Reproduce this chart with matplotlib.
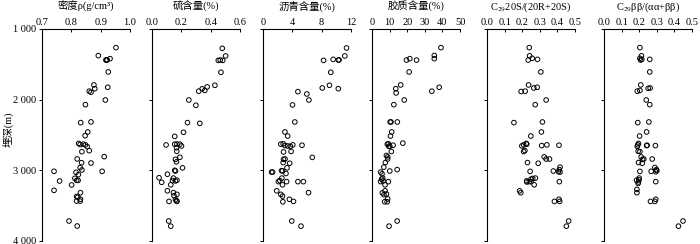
import matplotlib
matplotlib.use('Agg')
import matplotlib.pyplot as plt

plt.rcParams['font.family'] = ['Liberation Serif', 'Noto Sans CJK SC']
plt.rcParams['mathtext.fontset'] = 'stix'

# density g/cm3
dens = [0.952, 0.892, 0.932, 0.918, 0.920, 0.922, 0.926, 0.877, 0.924, 0.880, 0.861, 0.867,
        0.916, 0.848, 0.832, 0.867, 0.856, 0.847, 0.825, 0.830, 0.841, 0.848, 0.854, 0.861,
        0.836, 0.912, 0.820, 0.835, 0.867, 0.830, 0.836, 0.741, 0.905, 0.816, 0.824, 0.812,
        0.818, 0.823, 0.760, 0.801, 0.741, 0.831, 0.818, 0.822, 0.831, 0.818, 0.830, 0.792, 0.820]
dens_d = [1264, 1377, 1420, 1439, 1442, 1436, 1608, 1792, 1825, 1845, 1880, 1895,
          2005, 2071, 2325, 2315, 2457, 2510, 2620, 2635, 2630, 2640, 2665, 2722,
          2736, 2807, 2839, 2892, 2897, 2962, 2995, 3014, 3014, 3028, 3061, 3113,
          3142, 3142, 3151, 3207, 3283, 3316, 3370, 3380, 3408, 3435, 3435, 3717, 3788]

# sulfur %
sulf = [0.479, 0.502, 0.452, 0.465, 0.482, 0.470, 0.429, 0.342, 0.376, 0.319, 0.360,
        0.251, 0.299, 0.242, 0.326, 0.215, 0.155, 0.096, 0.155, 0.170, 0.190, 0.201, 0.167,
        0.169, 0.190, 0.160, 0.167, 0.208, 0.155, 0.160, 0.105, 0.048, 0.146, 0.140, 0.160,
        0.170, 0.066, 0.128, 0.105, 0.146, 0.170, 0.150, 0.160, 0.168, 0.116, 0.170, 0.114, 0.128]
sulf_d = [1274, 1382, 1445, 1440, 1445, 1613, 1797, 1847, 1820, 1880, 1870,
          2005, 2080, 2325, 2335, 2462, 2520, 2641, 2630, 2628, 2630, 2655, 2680,
          2730, 2815, 2845, 2880, 2965, 3000, 3010, 3055, 3105, 3110, 3145, 3150,
          3140, 3170, 3205, 3290, 3316, 3340, 3360, 3415, 3430, 3440, 3440, 3717, 3790]

# asphaltene %
asph = [11.39, 11.16, 9.57, 10.27, 10.37, 8.26, 9.24, 4.76, 5.98, 9.06, 8.08, 10.27,
        6.26, 4.02, 4.34, 2.99, 3.36, 2.43, 2.75, 2.99, 3.36, 3.74, 4.06, 5.32,
        3.83, 2.80, 6.72, 2.80, 3.00, 3.64, 2.75, 3.27, 2.52, 2.66, 1.31, 1.17, 3.13,
        2.57, 2.29, 2.10, 3.22, 4.76, 5.51, 2.66, 1.87, 2.43, 2.66, 6.21, 3.60, 4.16, 2.71,
        3.92, 5.18]
asph_d = [1269, 1382, 1430, 1440, 1438, 1445, 1613, 1887, 1920, 1797, 1835, 1845,
          2005, 2075, 2316, 2457, 2515, 2630, 2625, 2650, 2655, 2660, 2640, 2645,
          2733, 2740, 2817, 2844, 2840, 2900, 2890, 2965, 3005, 3008, 3025, 3025, 3045,
          3110, 3145, 3160, 3160, 3160, 3160, 3205, 3290, 3340, 3365, 3316, 3410, 3440, 3445,
          3717, 3790]

# resin %
resin = [39.2, 35.4, 35.4, 19.6, 21.5, 25.3, 21.1, 16.3, 38.2, 13.5, 13.7, 34.0,
         18.3, 12.4, 10.3, 14.4, 10.8, 11.2, 10.5, 8.7, 9.3, 10.1, 12.0, 9.5, 17.5,
         11.0, 8.2, 8.9, 8.9, 7.6, 6.7, 4.9, 5.7, 10.1, 14.3, 6.1, 5.5, 6.3, 4.9, 9.3,
         7.4, 7.4, 5.9, 6.8, 8.2, 8.9, 7.2, 8.6, 14.3, 9.7]
resin_d = [1264, 1375, 1420, 1440, 1420, 1440, 1608, 1792, 1825, 1845, 1905, 1880,
           2005, 2071, 2316, 2316, 2316, 2457, 2515, 2630, 2625, 2660, 2645, 2660, 2615,
           2733, 2790, 2810, 2840, 2890, 2955, 3025, 3050, 3010, 2990, 3110, 3125, 3150, 3160, 3160,
           3205, 3290, 3320, 3345, 3335, 3405, 3445, 3445, 3717, 3790]

# C29 20S/(20R+20S)
c29s = [0.240, 0.242, 0.257, 0.234, 0.287, 0.306, 0.236, 0.266, 0.285, 0.194, 0.217,
        0.336, 0.274, 0.153, 0.315, 0.309, 0.249, 0.223, 0.226, 0.198, 0.208, 0.311, 0.340,
        0.409, 0.208, 0.215, 0.325, 0.336, 0.355, 0.230, 0.291, 0.415, 0.411, 0.406, 0.377,
        0.415, 0.245, 0.275, 0.260, 0.250, 0.225, 0.240, 0.250, 0.226, 0.268, 0.411,
        0.185, 0.192, 0.409, 0.413, 0.383, 0.464, 0.451]
c29s_d = [1264, 1380, 1415, 1440, 1430, 1608, 1792, 1835, 1825, 1885, 1880,
          2005, 2071, 2325, 2316, 2457, 2515, 2620, 2630, 2655, 2640, 2650, 2640,
          2645, 2735, 2720, 2810, 2840, 2840, 2890, 2900, 2955, 2990, 3020, 3010,
          3025, 3015, 3110, 3115, 3125, 3150, 3160, 3160, 3165, 3205, 3160,
          3290, 3316, 3410, 3440, 3440, 3717, 3790]

# C29 bb/(aa+bb)
c29b = [0.204, 0.213, 0.204, 0.208, 0.215, 0.260, 0.260, 0.209, 0.251, 0.262, 0.189, 0.204,
        0.240, 0.260, 0.192, 0.255, 0.242, 0.202, 0.196, 0.192, 0.189, 0.242, 0.245, 0.292,
        0.194, 0.204, 0.211, 0.226, 0.219, 0.274, 0.196, 0.217, 0.289, 0.298, 0.294, 0.268,
        0.300, 0.204, 0.200, 0.198, 0.185, 0.196, 0.194, 0.294, 0.187, 0.187,
        0.294, 0.264, 0.289, 0.449, 0.423]
c29b_d = [1264, 1380, 1415, 1440, 1430, 1430, 1608, 1792, 1840, 1835, 1880, 1870,
          2005, 2071, 2325, 2316, 2457, 2515, 2620, 2640, 2660, 2650, 2645, 2650,
          2730, 2735, 2810, 2840, 2845, 2840, 2890, 2900, 2960, 2990, 3020, 3015,
          3005, 3015, 3110, 3135, 3140, 3165, 3185, 3160, 3270, 3316,
          3410, 3440, 3440, 3717, 3790]

titles = ['密度ρ(g/cm³)', '硫含量(%)', '沥青含量(%)', '胶质含量(%)',
          'C$_{29}$20S/(20R+20S)', 'C$_{29}$ββ/(αα+ββ)']
xlims = [(0.7, 1.0), (0.0, 0.6), (0, 12), (0, 50), (0.0, 0.5), (0.0, 0.5)]
xticks = [[0.7, 0.8, 0.9, 1.0], [0.0, 0.2, 0.4, 0.6], [0, 4, 8, 12],
          [0, 10, 20, 30, 40, 50], [0.0, 0.1, 0.2, 0.3, 0.4, 0.5], [0.0, 0.1, 0.2, 0.3, 0.4, 0.5]]
xfmt = ['{:.1f}', '{:.1f}', '{:.0f}', '{:.0f}', '{:.1f}', '{:.1f}']
series = [(dens, dens_d), (sulf, sulf_d), (asph, asph_d), (resin, resin_d),
          (c29s, c29s_d), (c29b, c29b_d)]
ytick_vals = [1000, 2000, 3000, 4000]
ytick_labels = ['1 000', '2 000', '3 000', '4 000']

lefts = [42, 152, 263, 372, 487, 604]

fig = plt.figure(figsize=(7, 2.44), dpi=100)
for i in range(6):
    ax = fig.add_axes([lefts[i] / 700, 0.0123, 88 / 700, 0.869])
    x, d = series[i]
    ax.scatter(x, d, s=11, facecolors='none', edgecolors='black', linewidths=0.7, clip_on=False)
    ax.set_xlim(*xlims[i])
    ax.set_ylim(4000, 1000)
    ax.spines['right'].set_visible(False)
    ax.spines['bottom'].set_visible(False)
    ax.spines['left'].set_linewidth(0.8)
    ax.spines['top'].set_linewidth(0.8)
    ax.xaxis.tick_top()
    ax.set_xticks(xticks[i])
    ax.set_xticklabels([xfmt[i].format(v) for v in xticks[i]], fontsize=7.5)
    ax.tick_params(axis='x', direction='in', length=2.5, width=0.7, pad=1.5)
    ax.set_yticks(ytick_vals)
    ax.tick_params(axis='y', direction='out', length=2.5, width=0.7, pad=1.5)
    if i == 0:
        ax.set_yticklabels(ytick_labels, fontsize=7.5)
    else:
        ax.set_yticklabels([])
    fig.text((lefts[i] + 44) / 700, 0.972, titles[i], ha='center', va='center', fontsize=7.5)

fig.text(0.011, 0.47, '埋深(m)', rotation=90, ha='center', va='center', fontsize=7.5)
fig.savefig('out.png', dpi=100)
